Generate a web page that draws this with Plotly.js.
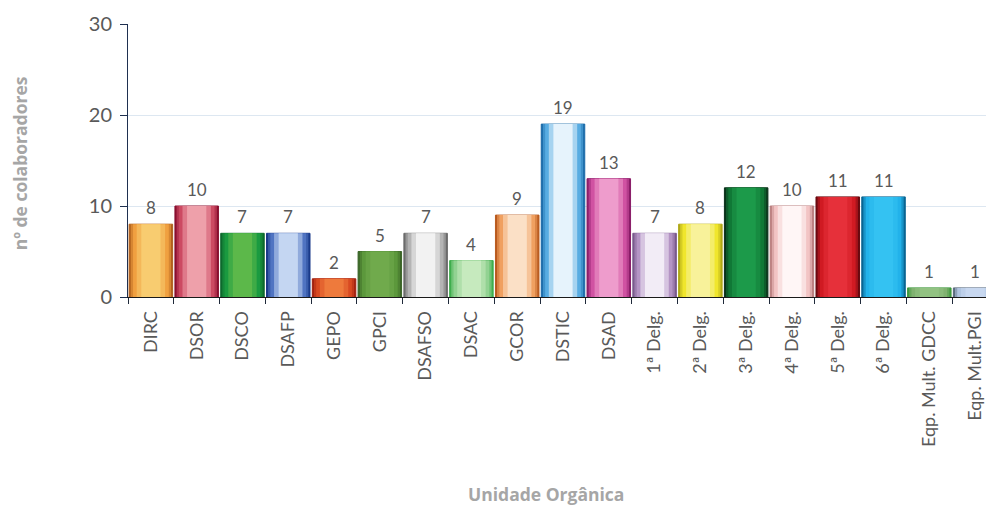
<!DOCTYPE html>
<html>
<head>
<meta charset="utf-8">
<script src="https://cdn.plot.ly/plotly-3.0.1.min.js"></script>
<style>
  html, body { margin: 0; padding: 0; background: #ffffff; overflow: hidden; width: 986px; height: 507px; }
  #chart { width: 1000px; height: 507px; }
</style>
</head>
<body>
<div id="chart"></div>
<script>
// Colaboradores por unidade orgânica
const units = ["DIRC", "DSOR", "DSCO", "DSAFP", "GEPO", "GPCI", "DSAFSO", "DSAC", "GCOR", "DSTIC",
  "DSAD", "1ª Delg.", "2ª Delg.", "3ª Delg.", "4ª Delg.", "5ª Delg.", "6ª Delg.",
  "Eqp. Mult. GDCC", "Eqp. Mult.PGI"];
const staff = [8, 10, 7, 7, 2, 5, 7, 4, 9, 19, 13, 7, 8, 12, 10, 11, 11, 1, 1];

// bevel shades per bar: frame, face, highlight
const frameColors = ["#b0601c", "#8a1030", "#0e6a2e", "#1a3a8a", "#a02010", "#3a6426", "#6c6c6c", "#3fae4e",
  "#b85a1e", "#1a6aa8", "#8a1c68", "#7a5a8c", "#b0a818", "#0a321a", "#b87c7c", "#6a0a10", "#0a6694",
  "#3e9a3e", "#5a6a7c"];
const faceColors = ["#f0a040", "#cc4a62", "#1a9a40", "#5074c2", "#d84a22", "#5c983c", "#b4b4b4", "#92d292",
  "#f0a060", "#58ace2", "#d052a2", "#b494c4", "#f0e62c", "#107836", "#f2c4c4", "#d01a22", "#22b2ea",
  "#80b270", "#b0c4e0"];
const shineColors = ["#f8cc70", "#eea0aa", "#5cb84a", "#c4d6f2", "#ee7a3c", "#70aa4c", "#f2f2f2", "#c6eabe",
  "#fbe0c6", "#e6f3fc", "#ee9ccc", "#f2ecf6", "#f8f29a", "#1c9a4a", "#fff6f6", "#e6303a", "#34c2f2",
  "#92c282", "#c8d8f0"];

// blend two hex colours, t = 0 gives a, t = 1 gives b
function mix(a, b, t) {
  const pa = [1, 3, 5].map(k => parseInt(a.substr(k, 2), 16));
  const pb = [1, 3, 5].map(k => parseInt(b.substr(k, 2), 16));
  return "rgb(" + pa.map((v, k) => Math.round(v + (pb[k] - v) * t)).join(",") + ")";
}

const layer = (colors, width, line) => ({
  type: "bar",
  x: units,
  y: staff,
  width: width,
  marker: { color: colors, line: line || { width: 0 } },
  hoverinfo: "x+y",
  showlegend: false
});

// nested bars, darker frame outside and lighter toward the middle
const traces = [
  layer(frameColors, 0.95, { width: 1, color: frameColors }),
  layer(frameColors.map((c, i) => mix(c, faceColors[i], 0.6)), 0.88),
  layer(faceColors, 0.78),
  layer(faceColors.map((c, i) => mix(c, shineColors[i], 0.55)), 0.62),
  layer(shineColors, 0.42)
];

const valueLabels = units.map((u, i) => ({
  x: u, y: staff[i], xref: "x", yref: "y",
  text: String(staff[i]), showarrow: false,
  yanchor: "bottom", yshift: 4,
  font: { family: "Lato, 'Open Sans', sans-serif", size: 17, color: "#595959" }
}));

const titleFont = { family: "'Open Sans', Lato, sans-serif", size: 17.5, color: "#a6a6a6", weight: 700 };
const axisTitles = [
  { text: "<b>Unidade Orgânica</b>", xref: "paper", yref: "paper", x: 0.48, y: -0.7216, xanchor: "center", yanchor: "middle",
    showarrow: false, font: titleFont },
  { text: "<b>nº de colaboradores</b>", xref: "paper", yref: "paper", x: -0.124, xanchor: "center", y: 0.49, yanchor: "middle",
    textangle: -90, showarrow: false, font: titleFont }
];

const layout = {
  width: 1000,
  height: 507,
  margin: { l: 128, r: 2.4, t: 24, b: 210 },
  paper_bgcolor: "#ffffff",
  plot_bgcolor: "#ffffff",
  barmode: "overlay",
  font: { family: "Lato, 'Open Sans', sans-serif", color: "#595959" },
  xaxis: {
    type: "category",
    range: [-0.5, 18.5],
    tickangle: -90,
    tickfont: { size: 18, color: "#595959" },
    ticks: "outside", ticklen: 6, tickcolor: "#1f2a3a",
    tickson: "boundaries",
    ticklabelstandoff: 6,
    showline: true, linecolor: "#1a1a1a", linewidth: 1,
    showgrid: false,
    fixedrange: true
  },
  yaxis: {
    range: [0, 30],
    tickvals: [0, 10, 20, 30],
    tickfont: { size: 20, color: "#595959" },
    ticks: "outside", ticklen: 7, tickcolor: "#1f3050",
    showline: true, linecolor: "#1f3050", linewidth: 1,
    showgrid: true, gridcolor: "#dde7f1", gridwidth: 1,
    zeroline: false,
    ticklabelstandoff: 4,
    fixedrange: true
  },
  annotations: valueLabels.concat(axisTitles)
};

Plotly.newPlot("chart", traces, layout, { displayModeBar: false, staticPlot: true });
</script>
</body>
</html>
